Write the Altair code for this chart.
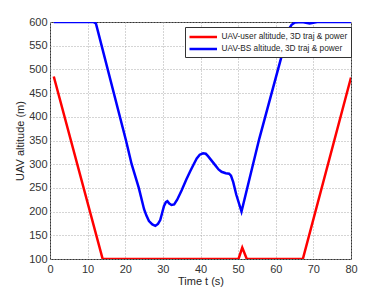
import altair as alt
import pandas as pd

user_label = "UAV-user altitude, 3D traj & power"
bs_label = "UAV-BS altitude, 3D traj & power"

red_t = [1, 14, 50.1, 51.1, 52.3, 67.2, 80]
red_v = [485, 100, 100, 124, 100, 100, 483]

blue_t = [1, 11.5, 12.2, 20.2, 21.7, 23.6, 25.0, 25.6, 26.3, 27.2, 28.0, 28.7, 29.3,
          29.8, 30.3, 30.8, 31.2, 31.7, 32.3, 33.0, 33.8, 35.0, 36.2, 37.2, 38.2,
          39.0, 39.8, 40.7, 41.4, 42.0, 43.0, 43.9, 44.8, 45.6, 46.7, 47.6, 48.1,
          48.7, 49.5, 50.9, 55.6, 63.5, 64.2, 65.1, 67.0, 69.0, 71.0, 80.0]
blue_v = [600, 600, 597, 350, 300, 250, 205, 192, 180, 173, 170, 174, 182,
          197, 212, 220, 222, 217, 214, 215, 225, 245, 267, 284, 300,
          312, 320, 323, 322, 317, 307, 298, 289, 284, 281, 280, 276,
          262, 236, 200, 353, 585, 594, 599, 600, 597, 600, 600]

x_ticks = [0, 10, 20, 30, 40, 50, 60, 70, 80]
y_ticks = [100, 150, 200, 250, 300, 350, 400, 450, 500, 550, 600]

df = pd.concat([
    pd.DataFrame({"t": red_t, "v": red_v, "series": user_label, "o": range(len(red_t))}),
    pd.DataFrame({"t": blue_t, "v": blue_v, "series": bs_label, "o": range(len(blue_t))}),
])

chart = alt.Chart(df).mark_line(strokeWidth=2.5, clip=True).encode(
    x=alt.X("t:Q", title="Time t (s)",
            scale=alt.Scale(domain=[0, 80], nice=False),
            axis=alt.Axis(values=x_ticks, labelFlush=False)),
    y=alt.Y("v:Q", title="UAV altitude (m)",
            scale=alt.Scale(domain=[100, 600], nice=False, zero=False),
            axis=alt.Axis(values=y_ticks, labelFlush=False)),
    color=alt.Color("series:N",
                    scale=alt.Scale(domain=[user_label, bs_label], range=["#ff0000", "#0000ff"]),
                    legend=alt.Legend(title=None, orient="none", legendX=135, legendY=5,
                                      symbolType="M-1,0H4", symbolStrokeWidth=2.5,
                                      symbolSize=121, labelFontSize=8.3,
                                      labelFont="Liberation Sans", labelColor="#262626",
                                      fillColor="white", strokeColor="#333333",
                                      padding=3, rowPadding=0, labelOffset=19.5)),
    order="o:Q",
).properties(
    width=301, height=237,
    padding={"left": 42, "top": 14, "right": 20, "bottom": 28},
    autosize=alt.AutoSizeParams(type="none"),
).configure_view(
    stroke="#333333", strokeWidth=1
).configure_axis(
    grid=True, gridDash=[1, 2], gridColor="#aaaaaa", gridOpacity=1,
    domain=False, ticks=False,
    labelFont="Liberation Sans", labelFontSize=11, labelColor="#333333",
    titleFont="Liberation Sans", titleFontSize=11, titleColor="#262626",
    titleFontWeight="normal", labelPadding=3,
).configure_axisX(titlePadding=1, labelPadding=4).configure_axisY(titlePadding=3)

chart.save("out.html", embed_options={"renderer": "svg", "actions": False})
